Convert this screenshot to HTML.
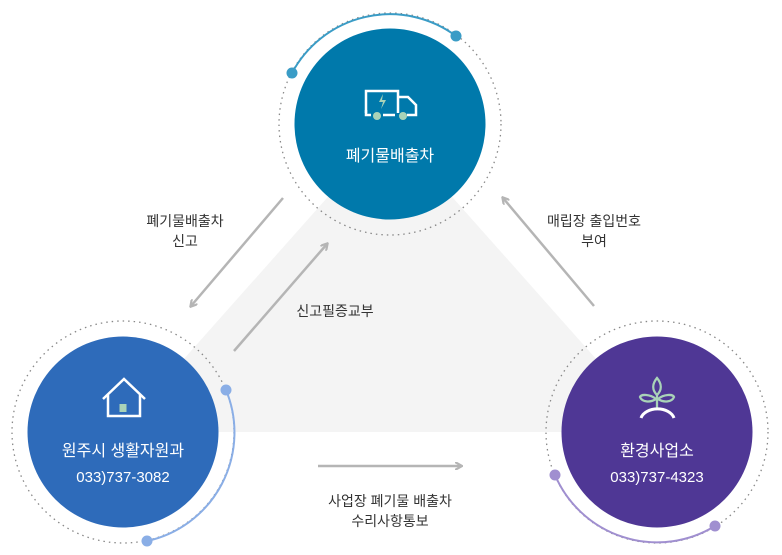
<!DOCTYPE html>
<html><head><meta charset="utf-8"><style>
html,body{margin:0;padding:0;background:#fff;}
svg{display:block;}
text{font-family:"Liberation Sans","Noto Sans CJK KR",sans-serif;}
</style></head><body>
<svg width="782" height="555" viewBox="0 0 782 555" xmlns="http://www.w3.org/2000/svg">
<defs>
<marker id="ah" markerWidth="8" markerHeight="8" refX="6" refY="4" orient="auto" markerUnits="userSpaceOnUse">
<path d="M0,0 L7,4 L0,8" fill="none" stroke="#b5b5b5" stroke-width="2.2"/>
</marker>
</defs>
<polygon points="390,127 119,432 661,432" fill="#f4f4f4"/>
<!-- dotted rings -->
<circle cx="390" cy="124" r="111" fill="none" stroke="#888" stroke-width="1.3" stroke-dasharray="1.5 4"/>
<circle cx="123" cy="432" r="111" fill="none" stroke="#888" stroke-width="1.3" stroke-dasharray="1.5 4"/>
<circle cx="657" cy="432" r="111" fill="none" stroke="#888" stroke-width="1.3" stroke-dasharray="1.5 4"/>
<!-- main circles -->
<circle cx="390" cy="124" r="95.5" fill="#0079ab"/>
<circle cx="123" cy="432" r="95.5" fill="#2e6bba"/>
<circle cx="657" cy="432" r="95.5" fill="#4f3795"/>
<!-- arcs -->
<path d="M292,73 A111,111 0 0 1 456,36" fill="none" stroke="#3a9cc6" stroke-width="2"/>
<circle cx="292" cy="73" r="5.5" fill="#3a9cc6"/><circle cx="456" cy="36" r="5.5" fill="#3a9cc6"/>
<path d="M226,390 A111,111 0 0 1 147,541" fill="none" stroke="#8aaee6" stroke-width="2"/>
<circle cx="226" cy="390" r="5.5" fill="#8aaee6"/><circle cx="147" cy="541" r="5.5" fill="#8aaee6"/>
<path d="M555,475 A111,111 0 0 0 715,526" fill="none" stroke="#a08fd0" stroke-width="2"/>
<circle cx="555" cy="475" r="5.5" fill="#a08fd0"/><circle cx="715" cy="526" r="5.5" fill="#a08fd0"/>
<!-- arrows -->
<g stroke="#b5b5b5" stroke-width="2.5" marker-end="url(#ah)">
<line x1="283" y1="198" x2="191" y2="306"/>
<line x1="234" y1="351" x2="327" y2="244"/>
<line x1="594" y1="306" x2="503" y2="198"/>
<line x1="318" y1="466" x2="461" y2="466"/>
</g>
<!-- truck icon -->
<g fill="none" stroke="#fff" stroke-width="2.5">
<path d="M366,113 V91 H398 V113"/>
<path d="M398,97 H408 L416,105 V115 H407"/>
<line x1="383" y1="115" x2="395" y2="115"/>
<path d="M366,110 V115 H371"/>
</g>
<circle cx="377" cy="116" r="4" fill="#a9d3b8"/><circle cx="403" cy="116" r="4" fill="#a9d3b8"/>
<path d="M383,94 L379,102 H383 L381,109 L386,100 H382 Z" fill="#a9d3b8"/>
<text x="390" y="161" fill="#fff" font-size="16" text-anchor="middle">폐기물배출차</text>
<!-- house icon -->
<g fill="none" stroke="#fff" stroke-width="2.5">
<path d="M103,399 L124,379 L145,399"/>
<path d="M108,395 V416 H140 V395"/>
</g>
<rect x="119.5" y="404" width="7" height="8" fill="#a9d3b8"/>
<text x="123" y="456" fill="#fff" font-size="16" text-anchor="middle">원주시 생활자원과</text>
<text x="123" y="482" fill="#fff" font-size="15" text-anchor="middle">033)737-3082</text>
<!-- sprout icon -->
<g fill="none" stroke="#a9d3b8" stroke-width="2.3">
<path d="M657,378 C652,384 652,390 657,395 C662,390 662,384 657,378 Z"/>
<path d="M657,395 V409"/>
<path d="M656,399 C650,394 641,394 640,397 C642,402 650,403 656,399 Z"/>
<path d="M658,399 C664,394 673,394 674,397 C672,402 664,403 658,399 Z"/>
</g>
<path d="M641,418 A17,12 0 0 1 674,418" fill="none" stroke="#fff" stroke-width="3"/>
<text x="657" y="456" fill="#fff" font-size="16" text-anchor="middle">환경사업소</text>
<text x="657" y="482" fill="#fff" font-size="15" text-anchor="middle">033)737-4323</text>
<!-- labels -->
<g fill="#333" font-size="14" text-anchor="middle">
<text x="185" y="226">폐기물배출차</text>
<text x="185" y="246">신고</text>
<text x="335" y="316">신고필증교부</text>
<text x="594" y="226">매립장 출입번호</text>
<text x="594" y="246">부여</text>
<text x="390" y="506">사업장 폐기물 배출차</text>
<text x="390" y="526">수리사항통보</text>
</g>
</svg>
</body></html>
